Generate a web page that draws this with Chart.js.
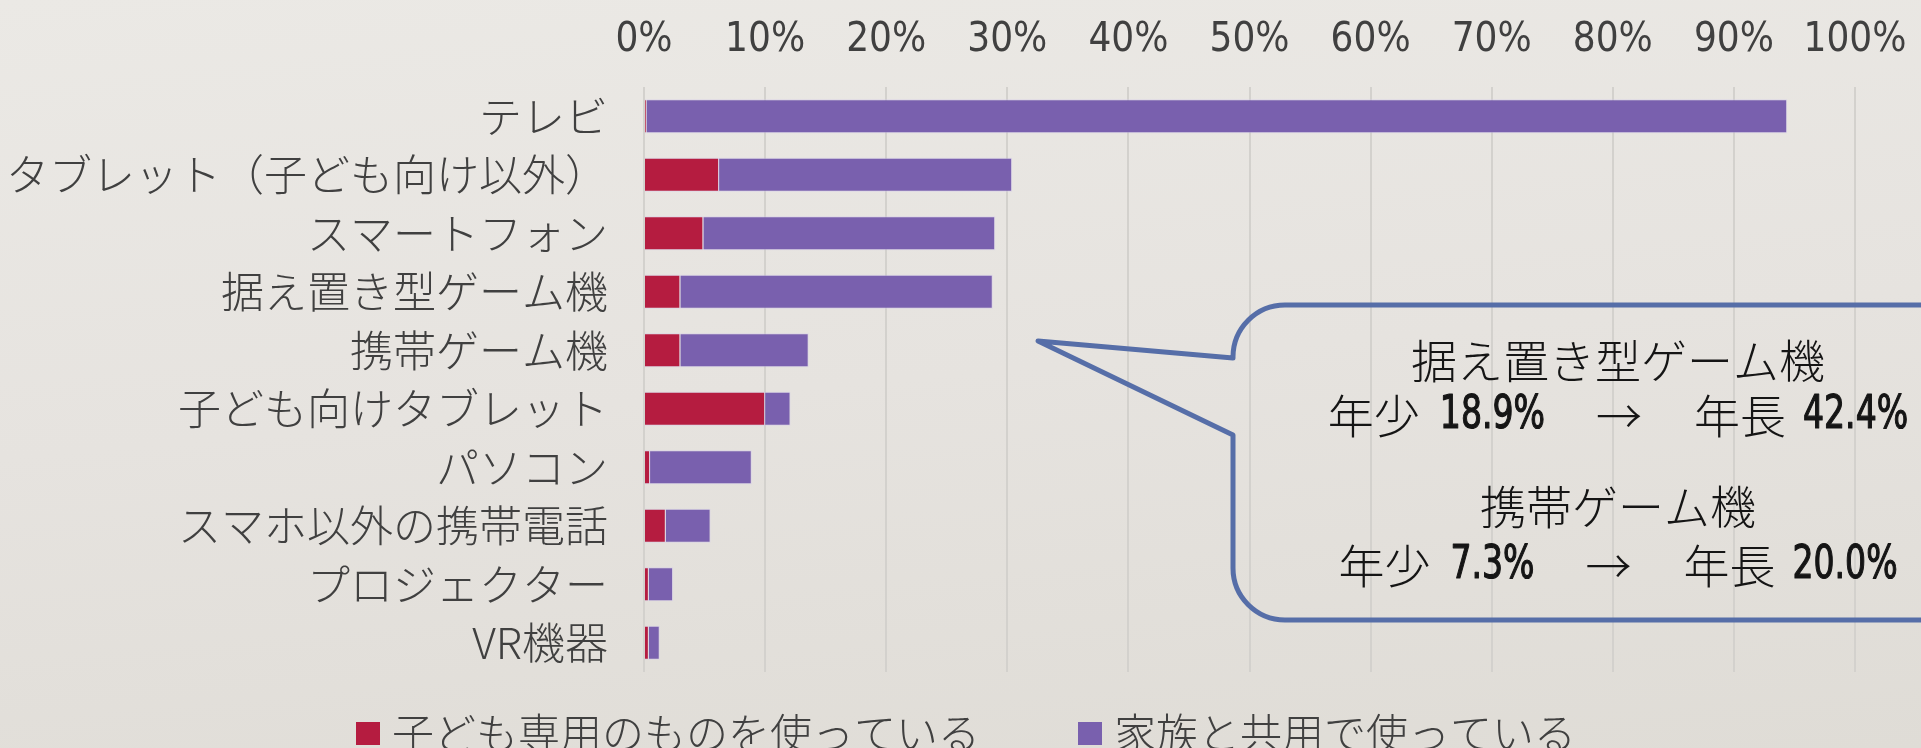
<!DOCTYPE html>
<html>
<head>
<meta charset="utf-8">
<script src="https://cdn.jsdelivr.net/npm/chart.js@4/dist/chart.umd.min.js"></script>
<style>
html,body{margin:0;padding:0;}
body{width:1921px;height:748px;overflow:hidden;background:linear-gradient(175deg,#ebe9e5 0%,#e6e3df 50%,#dfdcd6 100%);}
canvas{display:block;}
</style>
</head>
<body>
<canvas id="c" width="1921" height="748"></canvas>
<script>
// ---- data (percent of households) ----
const categories = ['テレビ','タブレット（子ども向け以外）','スマートフォン','据え置き型ゲーム機','携帯ゲーム機','子ども向けタブレット','パソコン','スマホ以外の携帯電話','プロジェクター','VR機器'];
const childOwn     = [0.2, 6.2, 4.9, 3.0, 3.0, 10.0, 0.5, 1.8, 0.4, 0.4];
const familyShared = [94.2, 24.2, 24.1, 25.8, 10.6, 2.1, 8.4, 3.7, 2.0, 0.9];
const seriesNames  = ['子ども専用のものを使っている','家族と共用で使っている'];
const axisMin = 0, axisMax = 100, axisStep = 10;

// callout text
const calloutTitle1 = '据え置き型ゲーム機';
const calloutLine1  = ['年少', '18.9%', '年長', '42.4%'];
const calloutTitle2 = '携帯ゲーム機';
const calloutLine2  = ['年少', '7.3%', '年長', '20.0%'];

const JP = "'Noto Sans CJK JP','Noto Sans CJK SC',sans-serif";
const NUM = "'Liberation Sans Narrow','DejaVu Sans Condensed','Liberation Sans',sans-serif";
const RED = '#b51c40', PURPLE = '#7960ae';

const legendPlugin = {
  id: 'customLegend',
  afterDraw(chart) {
    const ctx = chart.ctx;
    ctx.save();
    ctx.font = '300 42px ' + JP;
    const box = 24, gap = 12, itemGap = 98;
    const ds = chart.data.datasets;
    const widths = ds.map(d => ctx.measureText(d.label).width);
    const total = widths.reduce((a, b) => a + b, 0) + ds.length * (box + gap) + itemGap * (ds.length - 1);
    let x = 966 - total / 2;
    const cy = 733;
    ds.forEach((d, i) => {
      ctx.fillStyle = d.backgroundColor;
      ctx.fillRect(x, cy - 11, box, 23);
      x += box + gap;
      ctx.fillStyle = '#404040';
      ctx.textBaseline = 'middle';
      ctx.textAlign = 'left';
      ctx.fillText(d.label, x, cy);
      x += widths[i] + itemGap;
    });
    ctx.restore();
  }
};

const calloutPlugin = {
  id: 'callout',
  afterDraw(chart) {
    const ctx = chart.ctx;
    ctx.save();
    ctx.strokeStyle = '#566ea8';
    ctx.lineWidth = 5;
    ctx.lineJoin = 'round';
    ctx.lineCap = 'round';
    const L = 1233, T = 305, B = 620, R = 1990, r = 52;
    ctx.beginPath();
    ctx.moveTo(L, 358);
    ctx.lineTo(1038, 341);
    ctx.lineTo(L, 435);
    ctx.lineTo(L, B - r);
    ctx.arcTo(L, B, L + r, B, r);
    ctx.lineTo(R, B);
    ctx.lineTo(R, T);
    ctx.lineTo(L + r, T);
    ctx.arcTo(L, T, L, T + r, r);
    ctx.lineTo(L, 358);
    ctx.stroke();

    const cx = 1618;
    ctx.fillStyle = '#151515';
    ctx.textBaseline = 'middle';
    ctx.textAlign = 'center';
    ctx.font = '300 46px ' + JP;
    ctx.fillText(calloutTitle1, cx, 361);
    ctx.fillText(calloutTitle2, cx, 507);

    const SQ = 0.8; // horizontal squeeze for the narrow numeral face
    function drawLine(parts, y) {
      const jpFont = '300 46px ' + JP;
      const numFont = 'normal 46px ' + NUM;
      const segs = [
        {t: parts[0], f: jpFont, after: 20, sq: 1},
        {t: parts[1], f: numFont, after: 51, sq: SQ},
        {t: '→', f: jpFont, after: 52, sq: 1},
        {t: parts[2], f: jpFont, after: 17, sq: 1},
        {t: parts[3], f: numFont, after: 0, sq: SQ}
      ];
      let total = 0;
      segs.forEach(s => { ctx.font = s.f; s.w = ctx.measureText(s.t).width * s.sq; total += s.w + s.after; });
      let x = cx - total / 2;
      ctx.textAlign = 'left';
      segs.forEach(s => {
        ctx.font = s.f;
        ctx.save();
        ctx.translate(x, y);
        ctx.scale(s.sq, 1);
        ctx.fillText(s.t, 0, 0);
        if (s.sq !== 1) { ctx.lineWidth = 1.2; ctx.strokeStyle = '#151515'; ctx.strokeText(s.t, 0, 0); }
        ctx.restore();
        x += s.w + s.after;
      });
    }
    drawLine(calloutLine1, 416);
    drawLine(calloutLine2, 566);
    ctx.restore();
  }
};

new Chart(document.getElementById('c'), {
  type: 'bar',
  data: {
    labels: categories,
    datasets: [
      {label: seriesNames[0], data: childOwn, backgroundColor: RED, borderColor: 'rgba(210,200,235,0.55)', borderWidth: 1, barPercentage: 0.58, categoryPercentage: 1},
      {label: seriesNames[1], data: familyShared, backgroundColor: PURPLE, borderColor: 'rgba(210,200,235,0.55)', borderWidth: 1, barPercentage: 0.58, categoryPercentage: 1}
    ]
  },
  options: {
    indexAxis: 'y',
    responsive: false,
    animation: false,
    devicePixelRatio: 1,
    layout: {padding: {left: 10, right: 66, top: 7, bottom: 76}},
    plugins: {legend: {display: false}, tooltip: {enabled: false}},
    scales: {
      x: {
        position: 'top',
        stacked: true,
        min: axisMin, max: axisMax,
        ticks: {stepSize: axisStep, callback: v => v + '%', font: {family: NUM, size: 40}, color: '#404040', padding: 22, maxRotation: 0},
        grid: {color: '#d3d1cd', lineWidth: 2, drawTicks: false},
        border: {display: false},
        afterFit: s => { s.height = 80; s.paddingLeft = 0; s.paddingRight = 0; }
      },
      y: {
        stacked: true,
        ticks: {font: {family: JP, size: 43, weight: 300}, color: '#404040', padding: 28},
        grid: {display: false},
        border: {display: false},
        afterFit: s => { s.width = 634; }
      }
    }
  },
  plugins: [legendPlugin, calloutPlugin]
});
</script>
</body>
</html>
